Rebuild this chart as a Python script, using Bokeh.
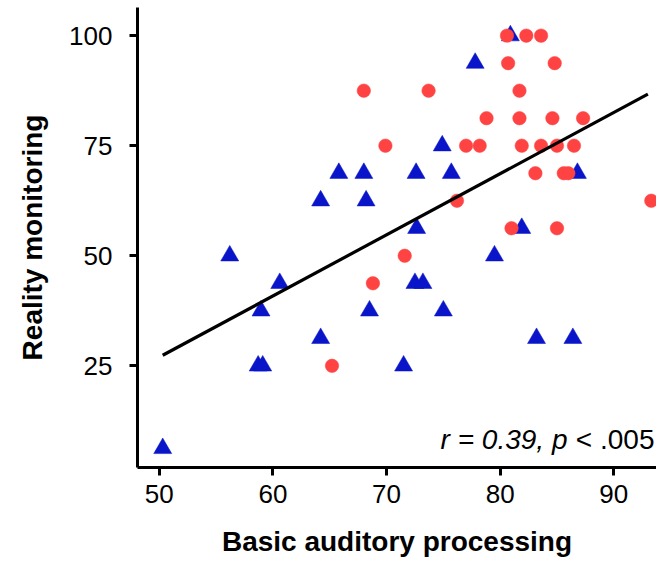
from bokeh.plotting import figure
from bokeh.models import Range1d, FixedTicker, Label
from bokeh.embed import file_html
from bokeh.resources import INLINE

# Data
red_x = [80.6, 82.3, 83.6, 80.7, 84.8, 68.0, 73.7, 81.7, 78.8, 81.7, 84.6, 87.3,
         69.9, 77.0, 78.2, 81.9, 83.6, 85.0, 86.5, 83.1, 85.6, 86.0, 76.2, 93.3,
         81.0, 85.0, 71.6, 68.8, 65.2]
red_y = [100, 100, 100, 93.75, 93.75, 87.5, 87.5, 87.5, 81.25, 81.25, 81.25, 81.25,
         75, 75, 75, 75, 75, 75, 75, 68.75, 68.75, 68.75, 62.5, 62.5,
         56.25, 56.25, 50, 43.75, 25]

blue_x = [80.9, 77.8, 74.9, 65.8, 68.0, 72.6, 75.7, 86.8, 64.2, 68.2, 72.65, 81.9,
          56.2, 79.5, 60.6, 72.5, 73.2, 58.95, 68.5, 75.0, 64.2, 83.2, 86.4,
          58.7, 59.1, 71.5, 50.3]
blue_y = [100, 93.75, 75, 68.75, 68.75, 68.75, 68.75, 68.75, 62.5, 62.5, 56.25, 56.25,
          50, 50, 43.75, 43.75, 43.75, 37.5, 37.5, 37.5, 31.25, 31.25, 31.25,
          25, 25, 25, 6.25]

fit_x = [50.3, 93.0]
fit_y = [27.4, 86.7]

x_ticks = [50, 60, 70, 80, 90]
y_ticks = [25, 50, 75, 100]

FONT = "Liberation Sans"

p = figure(width=656, height=559, output_backend="svg", toolbar_location=None,
           x_range=Range1d(48.08, 93.76), y_range=Range1d(1.91, 106.39),
           min_border_left=137, min_border_right=0, min_border_top=7,
           min_border_bottom=86)
p.outline_line_color = None
p.grid.visible = False
p.background_fill_color = "white"
p.border_fill_color = "white"

for ax in (p.xaxis[0], p.yaxis[0]):
    ax.axis_line_width = 3
    ax.axis_line_color = "black"
    ax.major_tick_line_width = 3
    ax.major_tick_line_color = "black"
    ax.major_tick_out = 8
    ax.major_tick_in = 0
    ax.minor_tick_out = 0
    ax.minor_tick_in = 0
    ax.major_label_text_font = FONT
    ax.major_label_text_font_size = "26px"
    ax.major_label_text_color = "black"
    ax.axis_label_text_font = FONT
    ax.axis_label_text_font_size = "28px"
    ax.axis_label_text_font_style = "bold"
    ax.axis_label_text_color = "black"

p.xaxis.ticker = FixedTicker(ticks=x_ticks)
p.yaxis.ticker = FixedTicker(ticks=y_ticks)
p.xaxis.axis_label = "Basic auditory processing"
p.yaxis.axis_label = "Reality monitoring"
p.xaxis.major_label_standoff = 9
p.yaxis.major_label_standoff = 17
p.xaxis.axis_label_standoff = 20
p.yaxis.axis_label_standoff = 18

p.scatter(blue_x, blue_y, marker="triangle", size=18, fill_color="#0a14c8",
          line_color="#0a14c8", line_width=0.5)
p.scatter(red_x, red_y, marker="circle", size=13.5, fill_color="#ff4343",
          line_color="#ff4343", line_width=0.5)
p.line(fit_x, fit_y, line_color="black", line_width=3.2)

lab_x = 93.58
lab_y = 8.2
p.add_layout(Label(x=lab_x, y=lab_y, text="< .005", text_align="right",
                   text_baseline="alphabetic", text_font=FONT,
                   text_font_size="28px", text_color="black"))
p.add_layout(Label(x=lab_x, y=lab_y, x_offset=-87, text="r = 0.39, p",
                   text_align="right", text_baseline="alphabetic",
                   text_font=FONT, text_font_size="28px",
                   text_font_style="italic", text_color="black"))

open("out.html", "w").write(file_html(p, INLINE))
